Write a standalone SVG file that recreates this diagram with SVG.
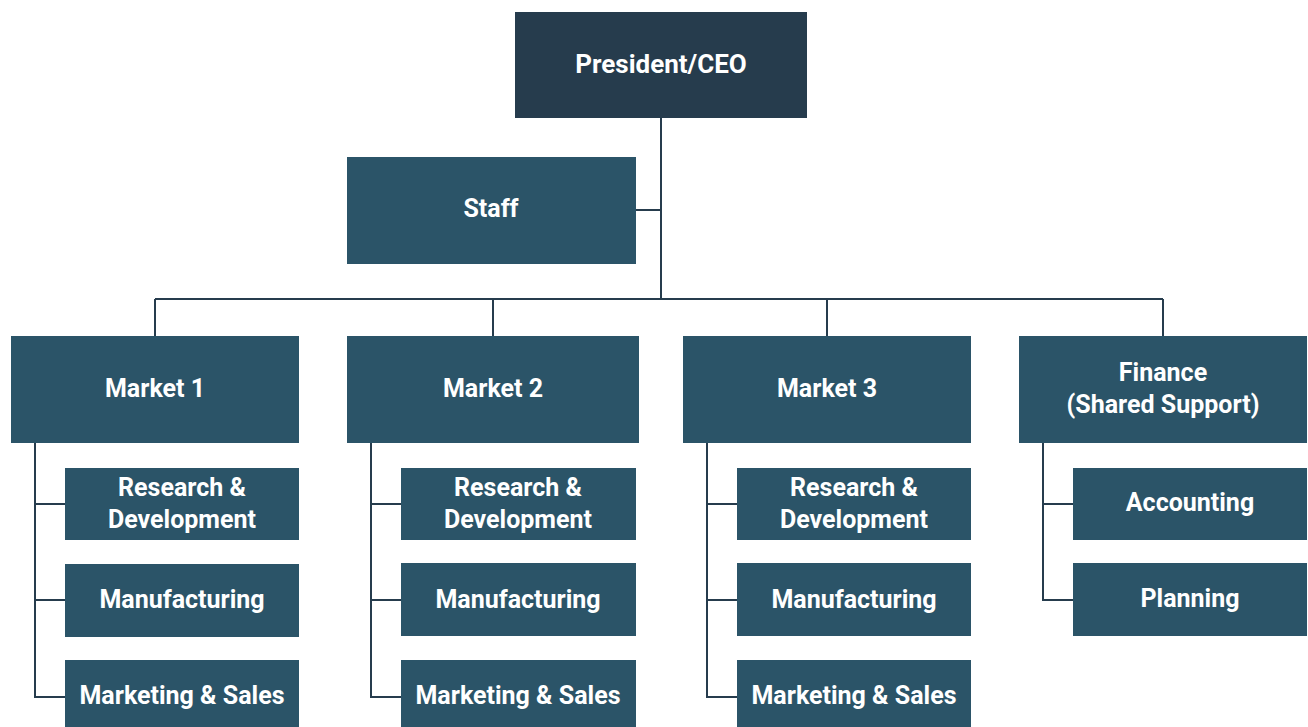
<svg xmlns="http://www.w3.org/2000/svg" width="1308" height="727" viewBox="0 0 1308 727">
<style>
.box{fill:#2b5468}
.top{fill:#263c4d}
.t{font-family:Roboto,"Open Sans",sans-serif;font-weight:bold;font-size:25px;fill:#ffffff;text-anchor:middle}
.c{fill:none;stroke:#263c4d;stroke-width:2}
</style>
<rect width="1308" height="727" fill="#ffffff"/>
<g id="connectors" class="c">
<path d="M661 118V299M636 210H661M155 299H1163M155 299V336M493 299V336M827 299V336M1163 299V336"/>
<path d="M35 443V697H65M35 504H65M35 600H65"/>
<path d="M371 443V697H401M371 504H401M371 600H401"/>
<path d="M707 443V697H737M707 504H737M707 600H737"/>
<path d="M1043 443V600H1073M1043 504H1073"/>
</g>
<g id="ceo"><rect class="top" x="515" y="12" width="292" height="106"/><text class="t" x="661" y="73" style="font-size:26px">President/CEO</text></g>
<g id="staff"><rect class="box" x="347" y="157" width="289" height="107"/><text class="t" x="491" y="217">Staff</text></g>
<g id="market1"><rect class="box" x="11" y="336" width="288" height="107"/><text class="t" x="155" y="397">Market 1</text></g>
<g id="market2"><rect class="box" x="347" y="336" width="292" height="107"/><text class="t" x="493" y="397">Market 2</text></g>
<g id="market3"><rect class="box" x="683" y="336" width="288" height="107"/><text class="t" x="827" y="397">Market 3</text></g>
<g id="finance"><rect class="box" x="1019" y="336" width="288" height="107"/><text class="t" x="1163" y="381">Finance</text><text class="t" x="1163" y="413">(Shared Support)</text></g>
<g id="m1-rd"><rect class="box" x="65" y="468" width="234" height="72"/><text class="t" x="182" y="496">Research &amp;</text><text class="t" x="182" y="528">Development</text></g>
<g id="m1-mfg"><rect class="box" x="65" y="564" width="234" height="73"/><text class="t" x="182" y="608">Manufacturing</text></g>
<g id="m1-ms"><rect class="box" x="65" y="660" width="234" height="67"/><text class="t" x="182" y="704">Marketing &amp; Sales</text></g>
<g id="m2-rd"><rect class="box" x="401" y="468" width="235" height="72"/><text class="t" x="518" y="496">Research &amp;</text><text class="t" x="518" y="528">Development</text></g>
<g id="m2-mfg"><rect class="box" x="401" y="563" width="235" height="73"/><text class="t" x="518" y="608">Manufacturing</text></g>
<g id="m2-ms"><rect class="box" x="401" y="660" width="235" height="67"/><text class="t" x="518" y="704">Marketing &amp; Sales</text></g>
<g id="m3-rd"><rect class="box" x="737" y="468" width="234" height="72"/><text class="t" x="854" y="496">Research &amp;</text><text class="t" x="854" y="528">Development</text></g>
<g id="m3-mfg"><rect class="box" x="737" y="563" width="234" height="73"/><text class="t" x="854" y="608">Manufacturing</text></g>
<g id="m3-ms"><rect class="box" x="737" y="660" width="234" height="67"/><text class="t" x="854" y="704">Marketing &amp; Sales</text></g>
<g id="accounting"><rect class="box" x="1073" y="468" width="234" height="72"/><text class="t" x="1190" y="511">Accounting</text></g>
<g id="planning"><rect class="box" x="1073" y="563" width="234" height="73"/><text class="t" x="1190" y="607">Planning</text></g>
</svg>
